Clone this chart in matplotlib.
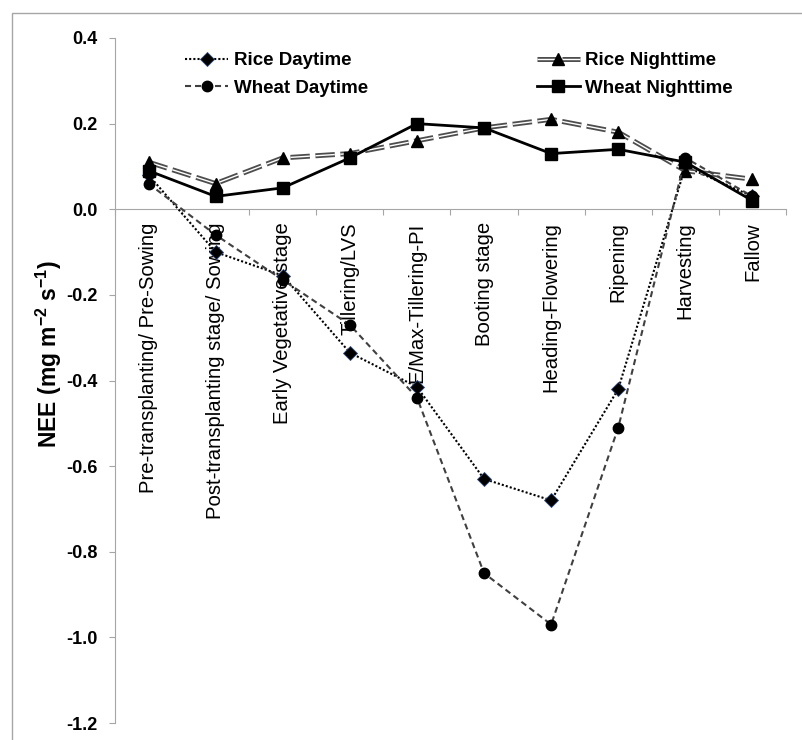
import matplotlib
matplotlib.use("Agg")
import matplotlib.pyplot as plt
import matplotlib.patheffects as pe
from matplotlib.patches import Rectangle
from matplotlib.ticker import FixedLocator, NullFormatter, FixedFormatter

plt.rcParams['font.family'] = ['Liberation Sans', 'DejaVu Sans']
plt.rcParams['mathtext.fontset'] = 'custom'
plt.rcParams['mathtext.bf'] = 'Liberation Sans:bold'
plt.rcParams['mathtext.rm'] = 'Liberation Sans:bold'

# Growth stages (x categories)
stages = [
    "Pre-transplanting/ Pre-Sowing",
    "Post-transplanting stage/ Sowing",
    "Early Vegetative stage",
    "Tillering/LVS",
    "E/Max-Tillering-PI",
    "Booting stage",
    "Heading-Flowering",
    "Ripening",
    "Harvesting",
    "Fallow",
]

# Net ecosystem exchange (mg m-2 s-1)
rice_daytime = [0.08, -0.10, -0.155, -0.335, -0.415, -0.63, -0.68, -0.42, 0.10, 0.03]
rice_nighttime = [0.11, 0.06, 0.12, 0.13, 0.16, 0.19, 0.21, 0.18, 0.09, 0.07]
wheat_daytime = [0.06, -0.06, -0.165, -0.27, -0.44, -0.85, -0.97, -0.51, 0.12, 0.03]
wheat_nighttime = [0.09, 0.03, 0.05, 0.12, 0.20, 0.19, 0.13, 0.14, 0.11, 0.02]

series_labels = ["Rice Daytime", "Wheat Daytime", "Rice Nighttime", "Wheat Nighttime"]
y_ticks = [-1.2, -1.0, -0.8, -0.6, -0.4, -0.2, 0.0, 0.2, 0.4]

W, H = 803, 740
fig = plt.figure(figsize=(W / 100, H / 100), dpi=100)
ax = fig.add_axes([115 / W, 17 / H, 671 / W, 685 / H])

x = list(range(len(stages)))
axis_gray = '#a6a6a6'

# Rice daytime: dotted with diamonds
h_rd, = ax.plot(x, rice_daytime, color='black', lw=1.5, ls=(0, (1, 1)),
                marker='D', ms=7, mfc='black', mec='#2f4a7a', mew=0.6, zorder=3)

# Rice nighttime: long-dash double line with triangles
ln_rn, = ax.plot(x, rice_nighttime, color='white', lw=1.0, ls=(0, (14, 4)),
                 path_effects=[pe.Stroke(linewidth=3.6, foreground='#4d4d4d'), pe.Normal()],
                 zorder=3.1)
mk_rn, = ax.plot(x, rice_nighttime, ls='none', marker='^', ms=9, color='black', zorder=3.2)

# Wheat daytime: dashed with circles
h_wd, = ax.plot(x, wheat_daytime, color='#404040', lw=1.5, ls=(0, (2.9, 1.9)),
                marker='o', ms=7.5, mfc='black', mec='black', zorder=3.3)

# Wheat nighttime: solid with squares
h_wn, = ax.plot(x, wheat_nighttime, color='black', lw=2.0, ls='-',
                marker='s', ms=8.5, mfc='black', mec='black', zorder=3.4)

ax.set_xlim(-0.5, len(stages) - 0.5)
ax.set_ylim(-1.2, 0.4)

for side in ['top', 'right']:
    ax.spines[side].set_visible(False)
ax.spines['left'].set_color(axis_gray)
ax.spines['bottom'].set_color(axis_gray)
ax.spines['bottom'].set_position(('data', 0))

# category boundaries get tick marks, centres get the rotated labels
ax.xaxis.set_major_locator(FixedLocator([i - 0.5 for i in range(len(stages) + 1)]))
ax.xaxis.set_major_formatter(NullFormatter())
ax.xaxis.set_minor_locator(FixedLocator(x))
ax.xaxis.set_minor_formatter(FixedFormatter(stages))
ax.tick_params(axis='x', which='major', direction='out', length=4.3, color=axis_gray)
ax.tick_params(axis='x', which='minor', length=0, pad=9.4, labelsize=14.6, labelrotation=90)

ax.set_yticks(y_ticks)
ax.set_yticklabels([f"{v:.1f}" for v in y_ticks], fontweight='bold', fontsize=13)
ax.tick_params(axis='y', direction='out', length=4.3, color=axis_gray, pad=8)

fig.text(49 / W, 1 - 354 / H, r'NEE (mg m$^{\mathbf{-2}}$ s$^{\mathbf{-1}}$)',
         rotation=90, ha='center', va='center', fontsize=16.5, fontweight='bold')

leg = ax.legend([h_rd, h_wd, (ln_rn, mk_rn), h_wn], series_labels, ncol=2,
                loc='upper left', bbox_to_anchor=(185 / W, 1 - 52 / H),
                bbox_transform=fig.transFigure, frameon=False,
                prop={'weight': 'bold', 'size': 13.5}, handlelength=2.3,
                handletextpad=0.3, columnspacing=9.0, labelspacing=0.55,
                borderpad=0, borderaxespad=0)

# chart area border
fig.add_artist(Rectangle((12 / W, -0.1), 1.2, 1 - 13 / H + 0.1, transform=fig.transFigure,
                         fill=False, edgecolor=axis_gray, lw=1.0))

fig.savefig('out.png', dpi=100)
